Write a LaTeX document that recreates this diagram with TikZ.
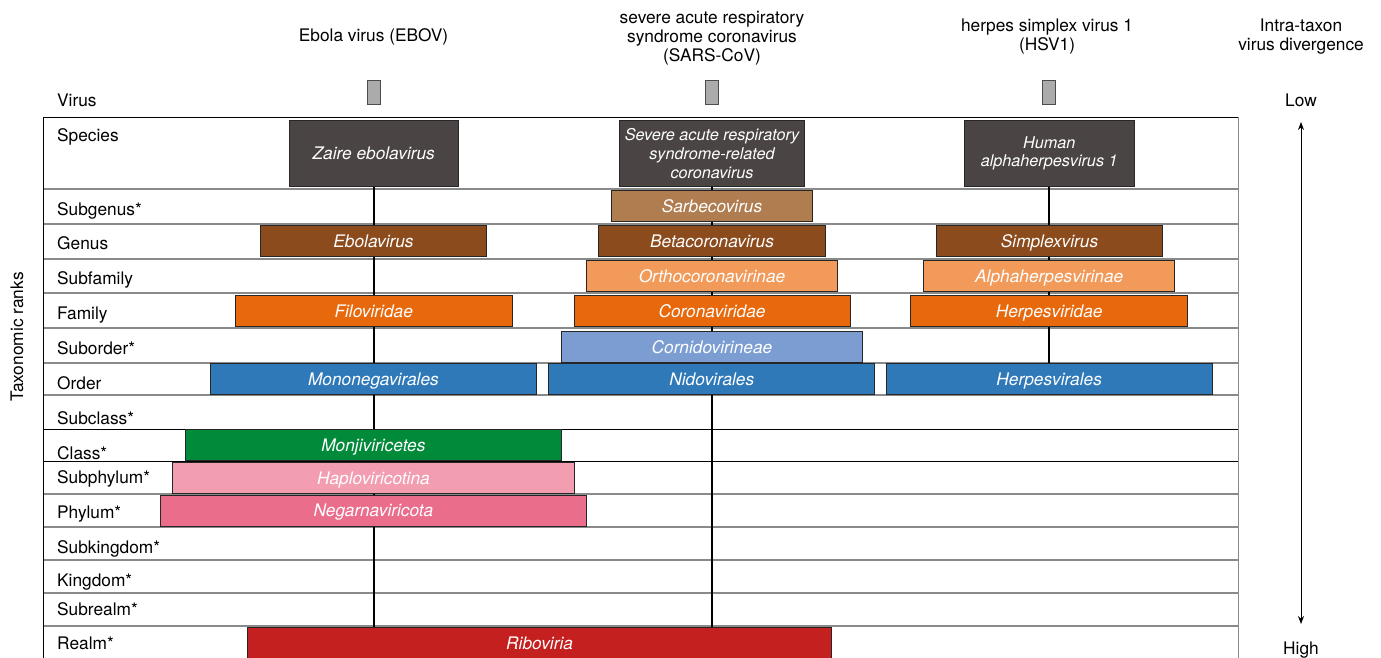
\documentclass[tikz,border=0pt]{standalone}
\usepackage{fontspec}
\setmainfont{TeX Gyre Heros}
\usetikzlibrary{positioning, arrows.meta, backgrounds}

\definecolor{speciesc}{HTML}{4A4544}
\definecolor{subgenusc}{HTML}{B07D50}
\definecolor{genusc}{HTML}{8C4B1D}
\definecolor{subfamilyc}{HTML}{F29A5A}
\definecolor{familyc}{HTML}{E8690C}
\definecolor{suborderc}{HTML}{7B9DD1}
\definecolor{orderc}{HTML}{2F79B9}
\definecolor{classc}{HTML}{008A3A}
\definecolor{subphylumc}{HTML}{F29DB0}
\definecolor{phylumc}{HTML}{EB6D8C}
\definecolor{realmc}{HTML}{C3201F}
\definecolor{gridc}{HTML}{8A8A8A}

\begin{document}
\begin{tikzpicture}[x=1pt, y=-1pt,
  every node/.style={font=\fontsize{17.3}{19}\selectfont, inner sep=0pt},
  oneline/.style={text height=12.4pt, text depth=0pt},
  rank/.style={anchor=west, oneline},
  taxon/.style={draw=black!85, line width=0.9pt, text=white, align=center, minimum height=31pt, font=\fontsize{17.3}{19}\selectfont\itshape},
  smalltext/.style={font=\fontsize{16.2}{18.8}\selectfont\itshape},
  virusbox/.style={draw=black!70, fill=black!33, line width=0.9pt, minimum width=13pt, minimum height=24pt},
  link/.style={line width=1.8pt, black}]
  \useasboundingbox (0,0) rectangle (1381,657);

  % column headings
  \node[align=center] (ebov-t) at (373.5,37) {Ebola virus (EBOV)};
  \node[align=center] (sars-t) at (712,38.5) {severe acute respiratory\\syndrome coronavirus\\(SARS-CoV)};
  \node[align=center] (hsv-t) at (1047,37) {herpes simplex virus 1\\(HSV1)};
  \node[align=center] (div-t) at (1301,37) {Intra-taxon\\virus divergence};

  % ranks
  \node[rank] (r-virus) at (57,100) {Virus};
  \node[rank] (r-species) at (57,135) {Species};
  \node[rank] (r-subgenus) at (57,209) {Subgenus*};
  \node[rank] (r-genus) at (57,243) {Genus};
  \node[rank] (r-subfamily) at (57,278) {Subfamily};
  \node[rank] (r-family) at (57,313) {Family};
  \node[rank] (r-suborder) at (57,348) {Suborder*};
  \node[rank] (r-order) at (57,383) {Order};
  \node[rank] (r-subclass) at (57,418) {Subclass*};
  \node[rank] (r-class) at (57,453) {Class*};
  \node[rank] (r-subphylum) at (57,477) {Subphylum*};
  \node[rank] (r-phylum) at (57,512) {Phylum*};
  \node[rank] (r-subkingdom) at (57,547) {Subkingdom*};
  \node[rank] (r-kingdom) at (57,580) {Kingdom*};
  \node[rank] (r-subrealm) at (57,609) {Subrealm*};
  \node[rank] (r-realm) at (57,643) {Realm*};
  \node[rotate=90] (ranks) at (17,337) {Taxonomic ranks};

  % viruses
  \node[virusbox] (ebov-v) at (373.5,92) {};
  \node[virusbox] (sars-v) at (712,92) {};
  \node[virusbox] (hsv-v) at (1049,92) {};

  % species
  \node[taxon, oneline, fill=speciesc, minimum width=169pt, minimum height=66pt] (ebov-sp) at (373.7,153.3) {Zaire ebolavirus};
  \node[taxon, smalltext, fill=speciesc, minimum width=185pt, minimum height=66pt] (sars-sp) at (712,153.3) {Severe acute respiratory\\syndrome-related\\coronavirus};
  \node[taxon, smalltext, fill=speciesc, minimum width=170pt, minimum height=66pt] (hsv-sp) at (1049.2,153.3) {Human\\alphaherpesvirus 1};

  \begin{scope}[every node/.append style={oneline}]
  % sars lineage
  \node[taxon, fill=subgenusc, minimum width=200.6pt] (sarbeco) at (712,206.2) {Sarbecovirus};
  \node[taxon, fill=genusc, minimum width=226.6pt] (betacorona) at (712,241.2) {Betacoronavirus};
  \node[taxon, fill=subfamilyc, minimum width=250.8pt] (orthocorona) at (712,276.2) {Orthocoronavirinae};
  \node[taxon, fill=familyc, minimum width=276pt] (coronaviridae) at (712,311) {Coronaviridae};
  \node[taxon, fill=suborderc, minimum width=300.8pt] (cornido) at (712,346.8) {Cornidovirineae};
  \node[taxon, fill=orderc, minimum width=326.2pt] (nidovirales) at (711.8,379) {Nidovirales};

  % ebov lineage
  \node[taxon, fill=genusc, minimum width=226.3pt] (ebolavirus) at (373.5,241.2) {Ebolavirus};
  \node[taxon, fill=familyc, minimum width=276.8pt] (filoviridae) at (373.7,311) {Filoviridae};
  \node[taxon, fill=orderc, minimum width=326.3pt] (mononega) at (373.4,379) {Mononegavirales};
  \node[taxon, fill=classc, minimum width=376.3pt] (monjivi) at (373.4,444.8) {Monjiviricetes};
  \node[taxon, fill=subphylumc, minimum width=401.3pt] (haplovi) at (373.4,477.8) {Haploviricotina};
  \node[taxon, fill=phylumc, minimum width=426.3pt] (negarna) at (373.4,510.7) {Negarnaviricota};

  % hsv lineage
  \node[taxon, fill=genusc, minimum width=226.6pt] (simplex) at (1049.5,241.2) {Simplexvirus};
  \node[taxon, fill=subfamilyc, minimum width=251.3pt] (alphaherpes) at (1049.2,276.2) {Alphaherpesvirinae};
  \node[taxon, fill=familyc, minimum width=277pt] (herpesviridae) at (1049.2,311) {Herpesviridae};
  \node[taxon, fill=orderc, minimum width=326.3pt] (herpesvirales) at (1049.2,379) {Herpesvirales};

  % realm
  \node[taxon, fill=realmc, minimum width=583.7pt, minimum height=32pt] (riboviria) at (539.6,643) {Riboviria};
  \end{scope}

  % divergence
  \node[oneline] (low) at (1301,100) {Low};
  \node[oneline] (high) at (1301,648) {High};
  \draw[{Stealth[length=8pt,width=6pt]}-{Stealth[length=8pt,width=6pt]}, line width=0.8pt] (low) ++(0,22) coordinate (d-top) -- (d-top |- 0,624) coordinate (d-bot);

  \begin{scope}[on background layer]
    \foreach \y in {189,224,259,293,328,363,395,494,527,560,593,626}
      \draw[gridc, line width=1.3pt] (43,\y) -- (1238,\y);
    \foreach \y in {429,461}
      \draw[black, line width=0.9pt] (43,\y) -- (1238,\y);
    \draw[black, line width=1pt] (43,665) -- (43,117) -- (1238,117);
    \draw[gridc, line width=1pt] (1238,117) -- (1238,665);
    \draw[link] (ebov-sp) -- (ebov-sp |- riboviria.north);
    \draw[link] (sars-sp) -- (sars-sp |- riboviria.north);
    \draw[link] (hsv-sp) -- (herpesvirales);
  \end{scope}
\end{tikzpicture}
\end{document}
